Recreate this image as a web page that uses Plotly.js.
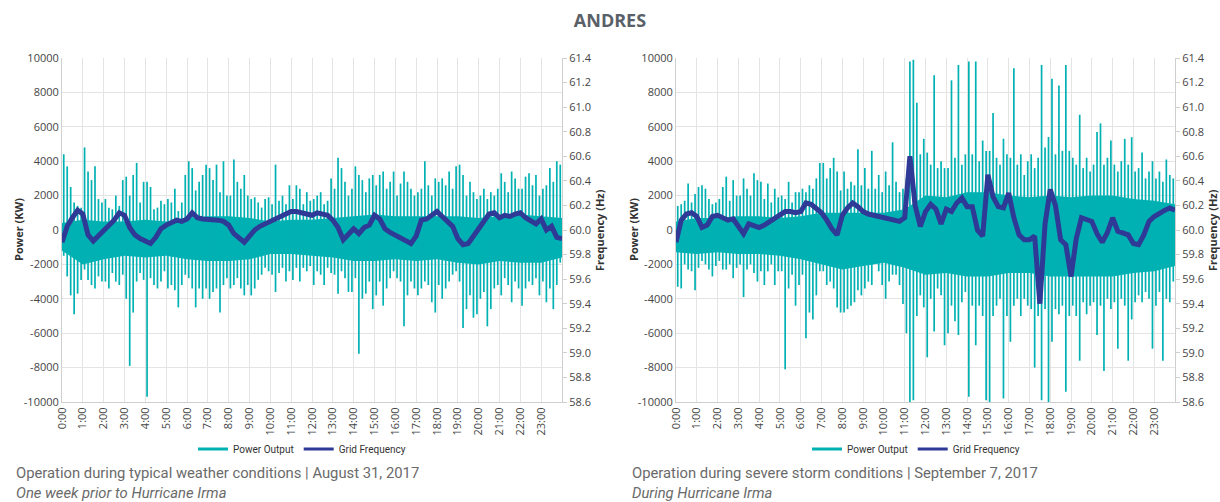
<!DOCTYPE html>
<html>
<head>
<meta charset="utf-8">
<script src="https://cdn.plot.ly/plotly-3.0.1.min.js"></script>
<style>
  html, body { margin: 0; padding: 0; background: #ffffff; }
  #chart { width: 1220px; height: 502px; }
</style>
</head>
<body>
<div id="chart"></div>
<script>
// ---------- DATA ----------
const CHART_TITLE = 'ANDRES';
const SERIES_NAMES = ['Power Output', 'Grid Frequency'];
const HOUR_TICKS = [0,1,2,3,4,5,6,7,8,9,10,11,12,13,14,15,16,17,18,19,20,21,22,23];
const HOUR_LABELS = ['0:00','1:00','2:00','3:00','4:00','5:00','6:00','7:00','8:00','9:00','10:00','11:00',
                     '12:00','13:00','14:00','15:00','16:00','17:00','18:00','19:00','20:00','21:00','22:00','23:00'];
const POWER_TICKS = [-10000,-8000,-6000,-4000,-2000,0,2000,4000,6000,8000,10000];
const POWER_LABELS = ['-10000','-8000','-6000','-4000','-2000','0','2000','4000','6000','8000','10000'];
const FREQ_TICKS = [58.6,58.8,59.0,59.2,59.4,59.6,59.8,60.0,60.2,60.4,60.6,60.8,61.0,61.2,61.4];
const CAPTIONS_AUG = ['Operation during typical weather conditions | August 31, 2017', 'One week prior to Hurricane Irma'];
const CAPTIONS_SEP = ['Operation during severe storm conditions | September 7, 2017', 'During Hurricane Irma'];

// Power output (kW): peak high and peak low within each 10-minute interval
const POWER_HI_AUG = [
  4400,3700,2500,1600,1400,1300,  4800,3400,2900,3700,1800,1600,  1800,1300,1200,2000,1400,2900,
  3100,2000,3200,3900,1600,2800,  2800,2500,1200,1300,1700,1500,  1800,1600,2400,1100,1600,3200,
  4000,3600,2300,2800,3200,3800,  3600,2900,3800,2200,4000,2000,  2000,4100,2800,2400,3200,2000,
  1800,1900,1600,1300,1800,1900,  1500,3800,1700,2000,1500,2600,  1800,2600,2400,1500,2200,1700,
  1800,2000,2200,1500,1700,3000,  2400,4200,3600,2800,2000,2400,  3700,3200,2900,2200,3000,3200,
  2600,3200,3400,2400,2800,3400,  2000,2700,3400,2800,2400,2000,  2200,2400,4000,2600,2000,3000,
  2800,3000,2600,3400,2400,3700,  3800,3200,2000,2800,2200,1800,  2000,2400,1800,2200,2000,2400,
  3300,2800,2200,3400,3000,2400,  2400,3100,3300,2600,3200,2000,  2400,2600,3600,2800,4000,3800
];
const POWER_LO_AUG = [
  -1500,-2700,-3800,-4900,-3700,-2900,  -2300,-2900,-3200,-3400,-2700,-3000,  -3000,-3400,-2500,-3000,-3200,-2600,
  -4000,-7900,-4800,-3000,-2500,-2900,  -9700,-2800,-3200,-3400,-3000,-2400,  -3400,-3200,-3500,-4500,-3200,-2600,
  -2800,-3400,-4500,-3400,-4000,-3400,  -4000,-3600,-3400,-4800,-3200,-2800,  -3400,-3200,-2800,-3400,-3800,-3200,
  -3800,-3400,-2900,-2600,-2200,-2400,  -2600,-3600,-2500,-2200,-3000,-2400,  -2900,-2200,-3000,-2200,-2400,-2100,
  -3200,-2400,-2600,-3200,-2200,-2500,  -2600,-3700,-2400,-2800,-3600,-3600,  -2800,-7200,-4000,-3700,-3000,-4600,
  -3800,-3000,-4400,-3400,-2800,-2400,  -2800,-3000,-5600,-3800,-3000,-3400,  -3800,-3400,-3000,-3200,-4200,-4800,
  -3200,-4000,-3400,-3000,-2600,-2400,  -3000,-5700,-4600,-3800,-5100,-4900,  -4000,-3600,-5600,-4600,-3400,-3200,
  -3800,-2800,-3200,-4200,-3000,-3400,  -4400,-3400,-3000,-3200,-2800,-3800,  -3000,-4200,-3400,-4600,-3200,-1900
];
const POWER_HI_SEP = [
  1400,1500,1700,2700,1600,2100,  2500,2600,2400,1800,1500,1600,  1800,2500,3100,1700,2900,2000,
  2000,3000,2400,2000,3300,2900,  2800,1800,2700,1600,2400,1900,  2000,1800,2800,1600,2200,2200,
  2400,2200,2600,2400,3000,3900,  3900,3000,3600,4200,3400,2300,  3400,2400,2800,2600,4700,2600,
  3600,2400,4600,2400,3200,2200,  3400,2600,5100,2800,2200,2400,  3000,9800,9900,7400,4400,5300,
  4500,3800,9000,3600,4000,3600,  3600,8700,4200,9600,3800,4400,  9800,4400,9800,4000,5200,4600,
  4600,6800,4200,3800,5300,4400,  4200,9400,3800,4400,3200,4000,  4400,3600,4200,9600,4800,5400,
  8800,4400,8400,4600,9600,4600,  4200,3800,6700,3600,4200,3400,  3800,5700,6200,3800,4200,5200,
  3800,3400,4000,5300,3800,5400,  3400,3600,4500,3000,3400,4000,  3000,3400,2800,4100,3200,3000
];
const POWER_LO_SEP = [
  -3300,-3400,-2000,-2300,-2400,-3500,  -2200,-1800,-2000,-2300,-2700,-2100,  -1800,-2300,-2300,-2000,-2800,-2200,
  -2000,-3900,-2300,-2000,-2500,-3000,  -2400,-3200,-2400,-2000,-3200,-2400,  -2400,-8100,-3400,-2600,-4400,-3200,
  -2600,-6300,-4800,-5200,-3800,-2400,  -2400,-3200,-3000,-3400,-4500,-4800,  -4800,-4600,-4400,-4200,-3500,-3800,
  -3400,-3000,-3200,-1800,-2400,-3200,  -4000,-3000,-2600,-2600,-3200,-4300,  -6000,-10000,-9900,-5000,-3800,-4500,
  -7400,-4000,-5900,-3400,-3800,-6700,  -6000,-4400,-5300,-6100,-4200,-3600,  -9700,-4400,-6700,-4400,-5000,-9900,
  -10000,-5000,-4400,-4000,-9800,-5000,  -6500,-4400,-4000,-5000,-4000,-4400,  -4600,-8000,-5000,-9900,-4600,-10000,
  -6500,-4600,-4900,-4400,-9400,-5000,  -4400,-5000,-7600,-4200,-4900,-4400,  -4200,-6100,-4400,-8200,-4000,-4600,
  -4200,-6900,-4000,-4400,-7600,-5200,  -4200,-3800,-4200,-3600,-4000,-6900,  -4400,-3600,-7600,-4000,-4200,-3000
];

// Dense band where the power output oscillates continuously (kW), at each hour 0:00..24:00
const CORE_HI_AUG = [400,600,500,500,600,500,700,800,800,700,500,600,600,700,800,900,800,800,800,800,700,800,900,800,700];
const CORE_LO_AUG = [-1200,-2000,-1700,-1500,-1600,-1500,-1700,-1800,-1800,-1700,-1400,-1400,-1500,-1600,-1800,-1800,-1700,-1800,-1700,-1900,-2000,-1800,-1900,-1900,-1600];
const CORE_HI_SEP = [500,700,700,800,800,700,800,1000,1000,1000,1000,1200,2000,1900,2200,2200,2000,1900,2000,1900,2000,2000,1800,1700,1500];
const CORE_LO_SEP = [-1300,-1400,-1300,-1400,-1400,-1500,-1700,-2000,-2300,-2100,-1900,-2200,-2600,-2500,-2700,-2700,-2500,-2500,-2700,-2700,-2700,-2700,-2500,-2400,-2100];

// Grid frequency (Hz), every 15 minutes from 0:00 to 24:00
const FREQ_AUG = [
  59.90,60.03,60.10,60.16,60.13,59.96,59.91,59.95,59.99,60.03,60.08,60.14,
  60.12,60.02,59.96,59.93,59.91,59.89,59.94,60.01,60.04,60.06,60.08,60.07,
  60.09,60.14,60.10,60.09,60.09,60.09,60.08,60.07,60.04,59.97,59.93,59.90,
  59.95,60.00,60.03,60.05,60.07,60.09,60.12,60.14,60.15,60.15,60.14,60.13,
  60.12,60.14,60.13,60.12,60.08,60.02,59.92,59.97,60.01,59.97,60.02,60.04,
  60.12,60.09,60.01,59.98,59.96,59.93,59.91,59.89,59.95,60.08,60.09,60.12,
  60.15,60.11,60.07,60.03,59.93,59.88,59.89,59.95,60.01,60.08,60.13,60.14,
  60.10,60.12,60.11,60.13,60.14,60.10,60.07,60.05,60.09,60.00,60.03,59.94,59.93
];
const FREQ_SEP = [
  59.90,60.08,60.13,60.14,60.11,60.02,60.04,60.11,60.12,60.10,60.08,60.09,
  60.03,59.97,60.05,60.03,60.02,60.04,60.07,60.09,60.12,60.15,60.15,60.14,
  60.15,60.22,60.21,60.18,60.14,60.08,60.01,59.96,60.12,60.18,60.22,60.19,
  60.15,60.13,60.12,60.11,60.09,60.08,60.08,60.07,60.10,60.60,60.20,60.03,
  60.15,60.21,60.17,60.05,60.17,60.15,60.22,60.26,60.19,60.19,60.00,59.95,
  60.45,60.27,60.19,60.18,60.30,60.10,59.96,59.92,59.92,59.95,59.40,60.05,
  60.33,60.20,59.92,59.88,59.62,59.93,60.10,60.09,60.07,59.97,59.90,59.98,
  60.10,59.99,59.98,59.96,59.89,59.88,59.96,60.07,60.11,60.14,60.16,60.18,60.16
];

const BINS_PER_HOUR = 6;     // power intervals per hour
const FREQ_PER_HOUR = 4;     // frequency samples per hour

// ---------- BUILD ----------
const TEAL = '#00b1b3';
const NAVY = '#2f3a96';

function spikeTrace(hi, lo, xa, ya) {
  const x = [], y = [];
  for (let i = 0; i < hi.length; i++) {
    const t = (i + 0.5) / BINS_PER_HOUR;
    x.push(t, t, null); y.push(hi[i], lo[i], null);
  }
  return { x, y, type: 'scatter', mode: 'lines', xaxis: xa, yaxis: ya, connectgaps: false,
           line: { color: TEAL, width: 1.7 }, showlegend: false, hoverinfo: 'skip' };
}
function coreTraces(hiBand, loBand, xa, ya) {
  const x = hiBand.map((_, h) => h);
  return [
    { x, y: loBand, type: 'scatter', mode: 'lines', xaxis: xa, yaxis: ya, line: { width: 0, color: TEAL },
      showlegend: false, hoverinfo: 'skip' },
    { x, y: hiBand, type: 'scatter', mode: 'lines', xaxis: xa, yaxis: ya, line: { width: 0, color: TEAL },
      fill: 'tonexty', fillcolor: TEAL, showlegend: false, hoverinfo: 'skip' }
  ];
}
function freqTrace(f, xa, ya) {
  return { x: f.map((_, k) => k / FREQ_PER_HOUR), y: f, type: 'scatter', mode: 'lines',
           xaxis: xa, yaxis: ya, line: { color: NAVY, width: 5 }, showlegend: false, hoverinfo: 'skip' };
}
function legendTrace(name, color, xa, ya, lg) {
  return { x: [null], y: [null], type: 'scatter', mode: 'lines', name, xaxis: xa, yaxis: ya,
           legend: lg, fill: 'none', line: { color, width: 3 }, showlegend: true, hoverinfo: 'skip' };
}

const data = [
  legendTrace(SERIES_NAMES[0], TEAL, 'x', 'y', 'legend'),
  legendTrace(SERIES_NAMES[1], NAVY, 'x', 'y', 'legend'),
  legendTrace(SERIES_NAMES[0], TEAL, 'x2', 'y3', 'legend2'),
  legendTrace(SERIES_NAMES[1], NAVY, 'x2', 'y3', 'legend2'),
  ...coreTraces(CORE_HI_AUG, CORE_LO_AUG, 'x', 'y'),
  spikeTrace(POWER_HI_AUG, POWER_LO_AUG, 'x', 'y'),
  freqTrace(FREQ_AUG, 'x', 'y2'),
  ...coreTraces(CORE_HI_SEP, CORE_LO_SEP, 'x2', 'y3'),
  spikeTrace(POWER_HI_SEP, POWER_LO_SEP, 'x2', 'y3'),
  freqTrace(FREQ_SEP, 'x2', 'y4')
];

const W = 1220, H = 502, TOP = 58, BOTTOM = 402;
const PLOT_H = BOTTOM - TOP;
const py = (px) => (BOTTOM - px) / PLOT_H;   // pixel row -> paper y
const FONT = '"Open Sans", "DejaVu Sans", sans-serif';
const GRID = '#e4e4e4';
const LINE = '#cfcfcf';
const TICKC = '#454545';

function xAxis(domain, anchor) {
  return { domain, anchor, range: [0, 24], tickmode: 'array', tickvals: HOUR_TICKS, ticktext: HOUR_LABELS,
           tickangle: -90, tickfont: { size: 11, color: TICKC, family: FONT }, showgrid: true, gridcolor: GRID,
           showline: true, linecolor: LINE, ticks: '', zeroline: false, fixedrange: true };
}
function powerAxis(anchor) {
  return { anchor, range: [-10000, 10000], tickmode: 'array', tickvals: POWER_TICKS, ticktext: POWER_LABELS,
           tickfont: { size: 11, color: TICKC, family: FONT }, showgrid: true, gridcolor: GRID,
           showline: true, linecolor: LINE, zeroline: false, ticks: '' };
}
function freqAxis(anchor, overlay) {
  return { anchor, overlaying: overlay, side: 'right', range: [58.6, 61.4], tickmode: 'array', tickvals: FREQ_TICKS,
           tickformat: '.1f', tickfont: { size: 11, color: TICKC, family: FONT }, showgrid: false,
           showline: true, linecolor: LINE, zeroline: false, ticks: 'outside', ticklen: 4, tickcolor: LINE };
}

const capFont = { size: 14.8, color: '#6a6a6a', family: 'Roboto, "Open Sans", sans-serif' };
const axTitleFont = { size: 11, color: '#333', family: FONT };
const annotations = [
  { text: CAPTIONS_AUG[0], x: 14 / W, y: py(473), font: capFont, xanchor: 'left' },
  { text: '<i>' + CAPTIONS_AUG[1] + '</i>', x: 14 / W, y: py(493), font: capFont, xanchor: 'left' },
  { text: CAPTIONS_SEP[0], x: 630 / W, y: py(473), font: capFont, xanchor: 'left' },
  { text: '<i>' + CAPTIONS_SEP[1] + '</i>', x: 630 / W, y: py(493), font: capFont, xanchor: 'left' },
  { text: '<b>Power (KW)</b>', x: 18 / W, y: py(230), textangle: -90, font: axTitleFont, xanchor: 'center' },
  { text: '<b>Frequency (Hz)</b>', x: 599 / W, y: py(230), textangle: -90, font: axTitleFont, xanchor: 'center' },
  { text: '<b>Power (KW)</b>', x: 633 / W, y: py(230), textangle: -90, font: axTitleFont, xanchor: 'center' },
  { text: '<b>Frequency (Hz)</b>', x: 1212 / W, y: py(230), textangle: -90, font: axTitleFont, xanchor: 'center' }
].map(a => Object.assign(a, { xref: 'paper', yref: 'paper', yanchor: 'middle', showarrow: false }));

const legendBase = { orientation: 'h', xanchor: 'center', yanchor: 'middle', y: py(449), traceorder: 'normal',
                     font: { size: 10, color: '#333', family: 'Roboto, sans-serif' }, bgcolor: 'rgba(0,0,0,0)',
                     itemwidth: 30, tracegroupgap: 0 };

const layout = {
  width: W, height: H,
  margin: { l: 0, r: 0, t: TOP, b: H - BOTTOM, pad: 0 },
  paper_bgcolor: '#ffffff', plot_bgcolor: '#ffffff',
  title: { text: '<b>' + CHART_TITLE + '</b>', x: 0.5, xanchor: 'center', y: 1 - 21 / H, yanchor: 'middle',
           yref: 'container', font: { size: 18, color: '#5a6067', family: FONT } },
  xaxis: xAxis([62 / W, 562 / W], 'y'),
  yaxis: powerAxis('x'),
  yaxis2: freqAxis('x', 'y'),
  xaxis2: xAxis([676 / W, 1175 / W], 'y3'),
  yaxis3: powerAxis('x2'),
  yaxis4: freqAxis('x2', 'y3'),
  legend: Object.assign({}, legendBase, { x: 302 / W }),
  legend2: Object.assign({}, legendBase, { x: 916 / W }),
  annotations,
  showlegend: true
};

Plotly.newPlot('chart', data, layout, { displayModeBar: false, staticPlot: true });
</script>
</body>
</html>
